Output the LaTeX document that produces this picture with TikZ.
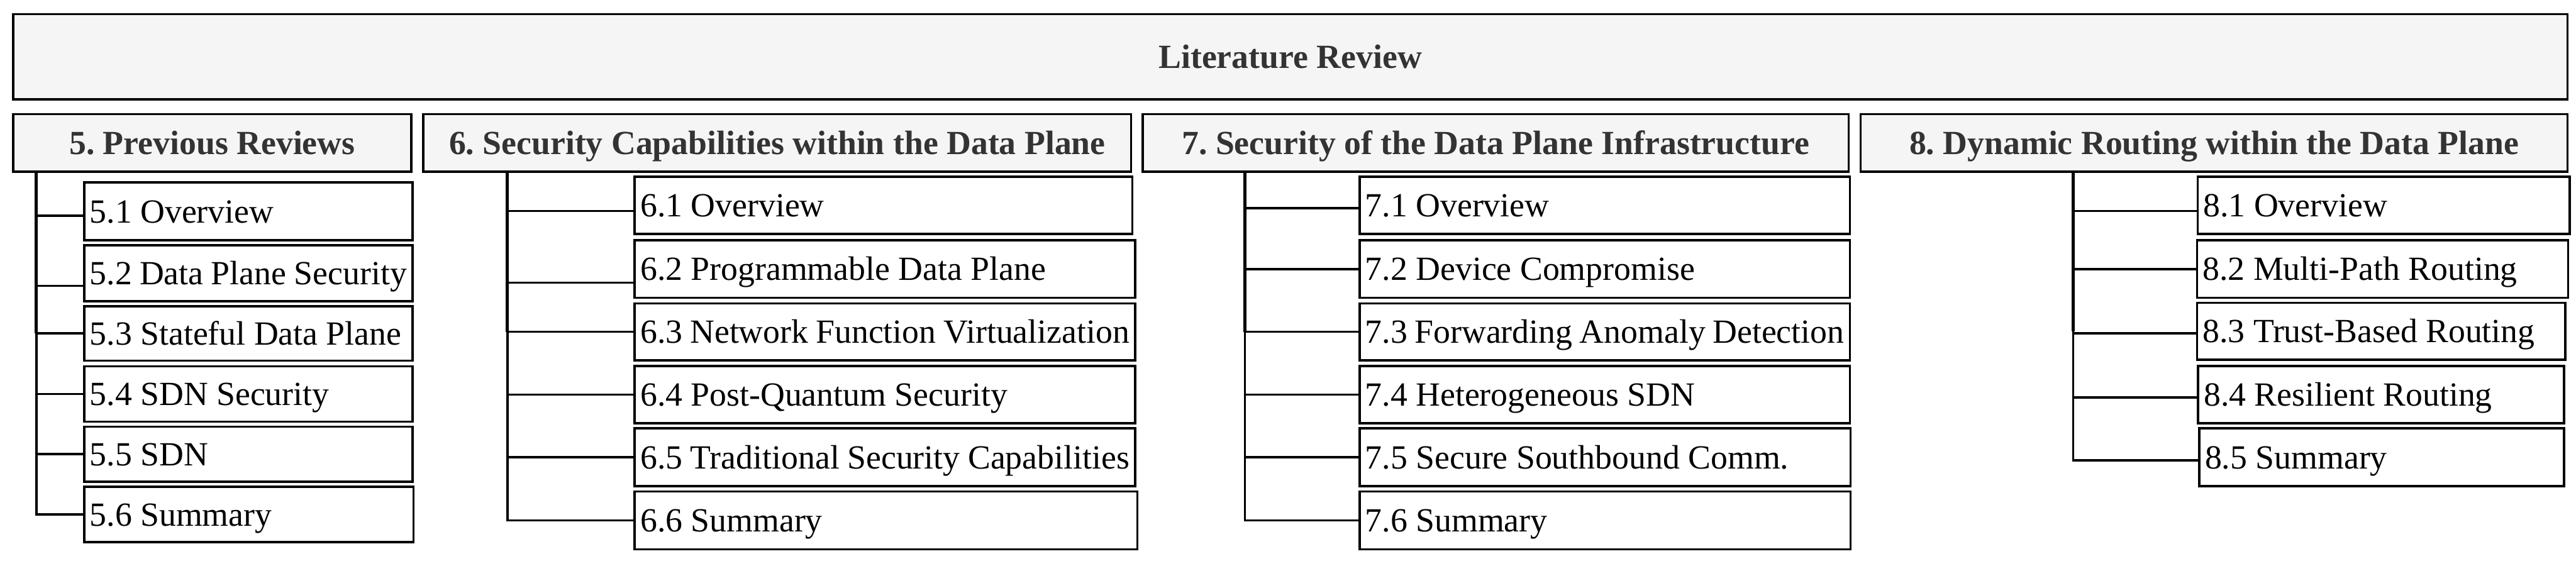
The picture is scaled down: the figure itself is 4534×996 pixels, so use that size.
\documentclass[tikz,border=0pt]{standalone}
\usepackage{fontspec}
\setmainfont{Liberation Serif}
\frenchspacing
\definecolor{hdrfill}{HTML}{F5F5F5}
\definecolor{hdrtext}{HTML}{333333}
\tikzset{
  hdr/.style={draw=black, line width=0.8pt, fill=hdrfill, text=hdrtext,
    font=\fontsize{11.9pt}{14pt}\selectfont\bfseries, inner sep=0pt, anchor=north west},
  child/.style={draw=black, line width=0.8pt, fill=white, text=black,
    font=\fontsize{11.9pt}{14pt}\selectfont, inner xsep=2pt, inner ysep=0pt, anchor=north west},
  link/.style={draw=black, line width=0.8pt},
  trunkthick/.style={draw=black, line width=1.15pt}
}
\newcommand\hbx[6]{\node[hdr, minimum width={(#4-#2)*0.2pt}, minimum height={(#5-#3)*0.2pt}] (#1) at (#2,#3) {\rule[-4pt]{0pt}{16pt}#6};}
\newcommand\cbx[6]{\node[child, minimum width={(#4-#2)*0.2pt}, minimum height={(#5-#3)*0.2pt}] (#1) at (#2,#3) {\hbox to \dimexpr 0.2pt*(#4-#2)-4pt\relax{\rule[-4pt]{0pt}{16pt}#6\hfil}};}
\begin{document}
\begin{tikzpicture}[x=0.2pt, y=-0.2pt]
\useasboundingbox (0,0) rectangle (4534,996);
% title
\hbx{title}{21}{23}{4517}{173}{Literature Review}
% section headers
\hbx{s5}{21}{199}{722}{300}{5. Previous Reviews}
\hbx{s6}{743}{199}{1989}{300}{6. Security Capabilities within the Data Plane}
\hbx{s7}{2009}{199}{3252}{300}{7. Security of the Data Plane Infrastructure}
\hbx{s8}{3273}{199}{4517}{300}{8. Dynamic Routing within the Data Plane}
% section 5 children
\cbx{c51}{146}{319}{724}{421}{5.1 Overview}
\cbx{c52}{146}{430}{724}{528}{5.2 Data Plane Security}
\cbx{c53}{146}{537}{724}{633}{5.3 Stateful Data Plane}
\cbx{c54}{146}{643}{724}{740}{5.4 SDN Security}
\cbx{c55}{146}{749}{724}{846}{5.5 SDN}
\cbx{c56}{146}{855}{726}{952}{5.6 Summary}
% section 6 children
\cbx{c61}{1115}{309}{1991}{410}{6.1 Overview}
\cbx{c62}{1115}{421}{1996}{522}{6.2 Programmable Data Plane}
\cbx{c63}{1115}{532}{1996}{632}{6.3 Network Function Virtualization}
\cbx{c64}{1115}{642}{1996}{743}{6.4 Post-Quantum Security}
\cbx{c65}{1115}{752}{1996}{854}{6.5 Traditional Security Capabilities}
\cbx{c66}{1115}{863}{2000}{965}{6.6 Summary}
% section 7 children
\cbx{c71}{2391}{309}{3254}{410}{7.1 Overview}
\cbx{c72}{2391}{421}{3254}{522}{7.2 Device Compromise}
\cbx{c73}{2391}{532}{3254}{632}{7.3 Forwarding Anomaly Detection}
\cbx{c74}{2391}{642}{3254}{743}{7.4 Heterogeneous SDN}
\cbx{c75}{2391}{752}{3255}{854}{7.5 Secure Southbound Comm.}
\cbx{c76}{2391}{863}{3255}{965}{7.6 Summary}
% section 8 children
\cbx{c81}{3866}{309}{4521}{410}{8.1 Overview}
\cbx{c82}{3865}{421}{4518}{522}{8.2 Multi-Path Routing}
\cbx{c83}{3865}{531}{4513}{631}{8.3 Trust-Based Routing}
\cbx{c84}{3867}{642}{4511}{743}{8.4 Resilient Routing}
\cbx{c85}{3869}{752}{4511}{854}{8.5 Summary}
% trunk tops
\coordinate (t5) at (s5.south -| 64,0);
\coordinate (t6) at (s6.south -| 893,0);
\coordinate (t7) at (s7.south -| 2191,0);
\coordinate (t8) at (s8.south -| 3649,0);
% connectors section 5
\draw[link] (t5) |- ([yshift=-1.6pt]c51.west);
\draw[link] (t5) |- ([yshift=-4.4pt]c52.west);
\draw[link] (t5) |- (c53.west);
\draw[link] (t5) |- (c54.west);
\draw[link] (t5) |- (c55.west);
\draw[link] (t5) |- (c56.west);
\draw[trunkthick] (t5) -- (t5 |- c53.west);
% connectors section 6
\draw[link] (t6) |- ([yshift=-2pt]c61.west);
\draw[link] (t6) |- ([yshift=-4.8pt]c62.west);
\draw[link] (t6) |- (c63.west);
\draw[link] (t6) |- (c64.west);
\draw[link] (t6) |- (c65.west);
\draw[link] (t6) |- (c66.west);
\draw[trunkthick] (t6) -- (t6 |- c63.west);
% connectors section 7
\draw[link] (t7) |- ([yshift=-1pt]c71.west);
\draw[link] (t7) |- (c72.west);
\draw[link] (t7) |- (c73.west);
\draw[link] (t7) |- (c74.west);
\draw[link] (t7) |- (c75.west);
\draw[link] (t7) |- (c76.west);
\draw[trunkthick] (t7) -- (t7 |- c73.west);
% connectors section 8
\draw[link] (t8) |- ([yshift=-2pt]c81.west);
\draw[link] (t8) |- (c82.west);
\draw[link] (t8) |- ([yshift=-0.8pt]c83.west);
\draw[link] (t8) |- ([yshift=-1pt]c84.west);
\draw[link] (t8) |- ([yshift=-1pt]c85.west);
\draw[trunkthick] (t8) -- (t8 |- c83.west);
\end{tikzpicture}
\end{document}
